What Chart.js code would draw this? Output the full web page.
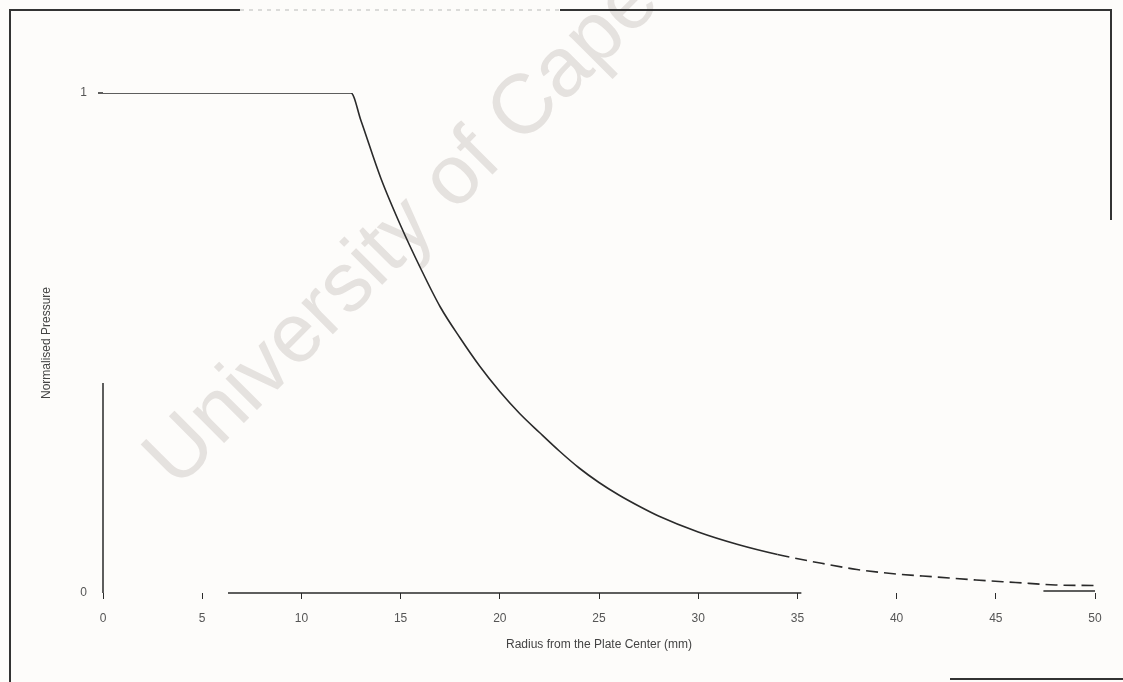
<!DOCTYPE html>
<html lang="en">
<head>
  <meta charset="UTF-8">
  <title>Normalised Pressure vs Radius</title>
  <script src="https://cdn.jsdelivr.net/npm/chart.js"></script>
  <style>
    html, body {
      margin: 0;
      padding: 0;
      background: #fdfcfa;
    }
    #wrap {
      width: 1123px;
      height: 682px;
    }
  </style>
</head>
<body>
  <div id="wrap"><canvas id="pressureChart" width="1123" height="682"></canvas></div>

  <script>
    // radius (mm) and normalised pressure
    const radius = [0, 12.5, 13, 14, 15, 16, 17, 18, 19, 20, 21, 22, 23, 24, 25, 26, 27, 28, 30, 32, 34, 36, 38, 40, 42, 44, 46, 48, 50];
    const pressure = [1, 1, 0.945, 0.83, 0.735, 0.65, 0.572, 0.51, 0.453, 0.403, 0.359, 0.321, 0.284, 0.25, 0.221, 0.196, 0.174, 0.154, 0.122, 0.097, 0.077, 0.061, 0.047, 0.038, 0.032, 0.026, 0.021, 0.016, 0.015];
    const xTicks = [0, 5, 10, 15, 20, 25, 30, 35, 40, 45, 50];
    const yTicks = [0, 1];

    const points = radius.map((r, i) => ({ x: r, y: pressure[i] }));

    const ink = '#2a2a2a';
    const fontFamily = '"Liberation Sans", Arial, sans-serif';

    // page frame + watermark behind the curve
    const backdrop = {
      id: 'backdrop',
      beforeDatasetsDraw(chart) {
        const { ctx, width, height } = chart;
        ctx.save();
        ctx.translate(177, 490);
        ctx.rotate(-Math.PI / 4);
        ctx.font = '84px ' + fontFamily;
        ctx.fillStyle = 'rgba(205, 200, 196, 0.5)';
        ctx.fillText('University of Cape Town', 0, 0);
        ctx.restore();

        ctx.save();
        ctx.strokeStyle = '#333';
        ctx.lineWidth = 2;
        ctx.beginPath();
        ctx.moveTo(10, height);
        ctx.lineTo(10, 10);
        ctx.lineTo(240, 10);
        ctx.moveTo(560, 10);
        ctx.lineTo(width - 12, 10);
        ctx.lineTo(width - 12, 220);
        ctx.moveTo(950, height - 3);
        ctx.lineTo(width, height - 3);
        ctx.stroke();
        ctx.strokeStyle = 'rgba(120,120,120,0.25)';
        ctx.setLineDash([4, 5]);
        ctx.beginPath();
        ctx.moveTo(240, 10);
        ctx.lineTo(560, 10);
        ctx.stroke();
        ctx.restore();
      },
      afterDatasetsDraw(chart) {
        // axis lines, only partly printed
        const { ctx, scales: { x, y } } = chart;
        const y0 = y.getPixelForValue(0);
        const x0 = x.getPixelForValue(0);
        ctx.save();
        ctx.strokeStyle = ink;
        ctx.lineWidth = 1.5;
        ctx.beginPath();
        ctx.moveTo(x0, y0);
        ctx.lineTo(x0, y.getPixelForValue(0.42));
        ctx.moveTo(x.getPixelForValue(6.3), y0);
        ctx.lineTo(x.getPixelForValue(35.2), y0);
        ctx.moveTo(x.getPixelForValue(47.4), y0 - 2);
        ctx.lineTo(x.getPixelForValue(50), y0 - 2);
        ctx.moveTo(x0 - 5, y.getPixelForValue(1));
        ctx.lineTo(x0, y.getPixelForValue(1));
        ctx.stroke();
        ctx.restore();
      }
    };

    new Chart(document.getElementById('pressureChart'), {
      type: 'line',
      data: {
        datasets: [{
          data: points,
          borderColor: ink,
          borderWidth: 1.6,
          pointRadius: 0,
          cubicInterpolationMode: 'monotone',
          fill: false,
          segment: {
            borderDash: ctx => ctx.p0.parsed.x >= 34 ? [12, 6] : undefined
          }
        }]
      },
      options: {
        responsive: false,
        animation: false,
        layout: { padding: { top: 93, right: 28, left: 0, bottom: 0 } },
        plugins: {
          legend: { display: false },
          tooltip: { enabled: false }
        },
        scales: {
          x: {
            type: 'linear',
            min: 0,
            max: 50,
            afterBuildTicks: s => { s.ticks = xTicks.map(v => ({ value: v })); },
            afterFit: s => { s.height = 89; },
            border: { display: false },
            grid: { drawOnChartArea: false, tickLength: 6, color: ink, lineWidth: 1 },
            ticks: { color: '#555', padding: 12, maxRotation: 0, font: { family: fontFamily, size: 12 } },
            title: {
              display: true,
              text: 'Radius from the Plate Center (mm)',
              color: '#444',
              padding: { top: 4, bottom: 30 },
              font: { family: fontFamily, size: 12 }
            }
          },
          y: {
            min: 0,
            max: 1,
            afterBuildTicks: s => { s.ticks = yTicks.map(v => ({ value: v })); },
            afterFit: s => { s.width = 103; },
            border: { display: false },
            grid: { display: false, drawTicks: false },
            ticks: { color: '#555', padding: 16, font: { family: fontFamily, size: 12 } },
            title: {
              display: true,
              text: 'Normalised Pressure',
              color: '#444',
              padding: { top: 39, bottom: 4 },
              font: { family: fontFamily, size: 12 }
            }
          }
        }
      },
      plugins: [backdrop]
    });
  </script>
</body>
</html>
